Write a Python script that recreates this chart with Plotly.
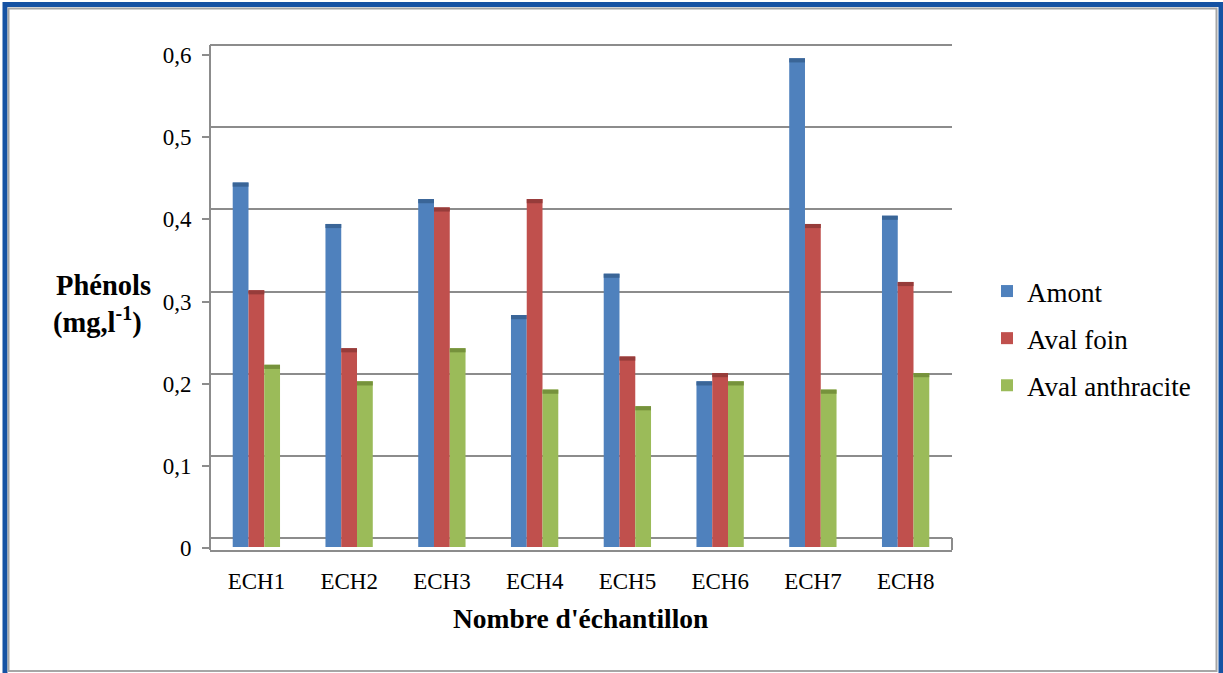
import plotly.graph_objects as go

# Phenol concentrations per sample and sampling point (mg/l)
echantillons = ["ECH1", "ECH2", "ECH3", "ECH4", "ECH5", "ECH6", "ECH7", "ECH8"]
amont = [0.44, 0.39, 0.42, 0.28, 0.33, 0.20, 0.59, 0.40]
aval_foin = [0.31, 0.24, 0.41, 0.42, 0.23, 0.21, 0.39, 0.32]
aval_anthracite = [0.22, 0.20, 0.24, 0.19, 0.17, 0.20, 0.19, 0.21]
y_ticks = [0, 0.1, 0.2, 0.3, 0.4, 0.5, 0.6]
y_tick_labels = ["0", "0,1", "0,2", "0,3", "0,4", "0,5", "0,6"]

series = [
    ("Amont", amont, "#4F81BD", "#3A6597"),
    ("Aval foin", aval_foin, "#C0504D", "#963C3A"),
    ("Aval anthracite", aval_anthracite, "#9BBB59", "#76923C"),
]

W, H = 1223, 673
ML, MR, MT, MB = 210, 271, 38, 123
PW, PH = W - ML - MR, H - MT - MB
FONT = "Times New Roman"


def px_x(x):
    return (x - ML) / PW


def px_y(y):
    return (H - MB - y) / PH


def axis_range(zero_px, six_px):
    # value range such that 0 sits at zero_px and 0.6 at six_px (pixel rows)
    scale = (zero_px - six_px) / 0.6
    lo = -((H - MB) - zero_px) / scale
    return [lo, lo + PH / scale]


back = axis_range(538, 45)    # back wall carrying the gridlines
front = axis_range(548, 55)   # front axis with tick labels
mid = axis_range(547, 50)     # depth at which the columns stand
TOP = 0.005                   # thickness of the darker top face

fig = go.Figure()

# invisible anchors so the wall and front axes are laid out
for ax in ("y", "y2"):
    fig.add_trace(go.Scatter(x=[echantillons[0]], y=[0], yaxis=ax, mode="markers",
                             marker=dict(opacity=0), showlegend=False, hoverinfo="skip"))

for name, vals, col, dark in series:
    fig.add_trace(go.Bar(
        x=echantillons, y=vals, name=name, marker=dict(color=col, line=dict(width=0)),
        offsetgroup=name, legendgroup=name, yaxis="y3",
    ))
    fig.add_trace(go.Bar(
        x=echantillons, y=[TOP] * len(vals), base=[v - TOP for v in vals],
        marker=dict(color=dark, line=dict(width=0)), offsetgroup=name,
        legendgroup=name, showlegend=False, hoverinfo="skip", yaxis="y3",
    ))

grid_col = "#8C8C8C"
shapes = [
    # outer blue frame and inner grey border
    dict(type="rect", xref="paper", yref="paper", x0=px_x(5), x1=px_x(1221),
         y0=px_y(4.5), y1=px_y(690), line=dict(color="#1552A3", width=5)),
    dict(type="rect", xref="paper", yref="paper", x0=px_x(8.5), x1=px_x(1216.5),
         y0=px_y(8.5), y1=px_y(671), line=dict(color="#A6A6A6", width=2)),
    # left wall edge, up to the top gridline
    dict(type="line", xref="paper", yref="y", x0=0, x1=0, y0=back[0], y1=0.6,
         line=dict(color=grid_col, width=2)),
    # right edge of the floor
    dict(type="line", xref="paper", yref="y", x0=1, x1=1, y0=back[0], y1=0,
         line=dict(color=grid_col, width=2)),
]

fig.update_layout(
    width=W, height=H,
    margin=dict(l=ML, r=MR, t=MT, b=MB),
    paper_bgcolor="white", plot_bgcolor="white",
    barmode="group", bargap=0.49, bargroupgap=0,
    font=dict(family=FONT, color="black"),
    xaxis=dict(
        showgrid=False, showline=True, linecolor=grid_col, linewidth=2,
        ticks="", tickfont=dict(size=23, family=FONT), ticklabelstandoff=9,
        range=[-0.5, 7.5],
    ),
    yaxis=dict(
        range=back, tickvals=y_ticks, showticklabels=False,
        showgrid=True, gridcolor=grid_col, gridwidth=2, zeroline=False,
        showline=False, ticks="",
    ),
    yaxis2=dict(
        range=front, overlaying="y", side="left", tickvals=y_ticks, ticktext=y_tick_labels,
        showgrid=False, zeroline=False, showline=False,
        ticks="outside", ticklen=7, tickcolor=grid_col, tickwidth=2,
        tickfont=dict(size=23, family=FONT), ticklabelstandoff=6,
    ),
    yaxis3=dict(
        range=mid, overlaying="y", visible=False, showgrid=False, zeroline=False,
    ),
    legend=dict(
        x=px_x(987), y=px_y(267), xanchor="left", yanchor="top",
        font=dict(size=27, family=FONT), traceorder="grouped", tracegroupgap=9,
        bgcolor="rgba(0,0,0,0)",
    ),
    shapes=shapes,
    annotations=[
        dict(text="<b>Nombre d'échantillon</b>", xref="paper", yref="paper",
             x=px_x(580), y=px_y(618), xanchor="center", yanchor="middle",
             showarrow=False, font=dict(size=27.5, family=FONT)),
        dict(text="<b>Phénols</b>", xref="paper", yref="paper",
             x=px_x(103), y=px_y(285), xanchor="center", yanchor="middle",
             showarrow=False, font=dict(size=28.5, family=FONT)),
        dict(text="<b>(mg,l<sup>-1</sup>)</b>", xref="paper", yref="paper",
             x=px_x(97), y=px_y(320), xanchor="center", yanchor="middle",
             showarrow=False, font=dict(size=28.5, family=FONT)),
    ],
    showlegend=True,
)

fig.write_html("out.html")
